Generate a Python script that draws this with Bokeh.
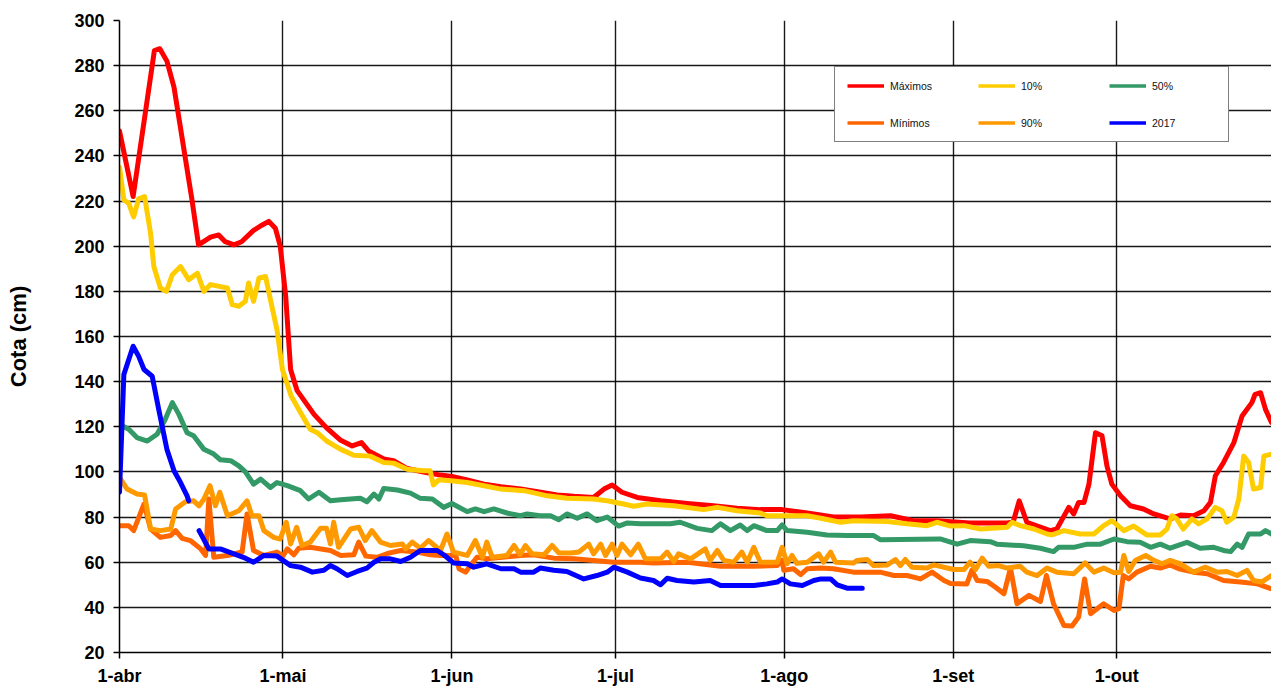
import numpy as np
from bokeh.plotting import figure
from bokeh.models import FixedTicker, Legend, LegendItem, Range1d
from bokeh.embed import file_html
from bokeh.resources import INLINE

# ---- tick labels (day 0 = 1 April) ----
month_ticks = [0, 30, 61, 91, 122, 153, 183]
month_labels = ["1-abr", "1-mai", "1-jun", "1-jul", "1-ago", "1-set", "1-out"]
y_ticks = list(range(20, 301, 20))

# ---- Máximos ----
max_day = [0, 2.5, 6.4, 7.4, 8.7, 10, 13.3, 14.5, 16.7, 18.2, 19.4, 21, 22.4, 24.6, 26.2, 27.4, 28.6, 29.5,
           30.5, 31.4, 32.6, 35.7, 38, 40.6, 42.7, 44.4, 45.7, 48.5, 50.3, 52.8, 55.8, 58.9, 61, 63.8, 66.9,
           70, 73.6, 77.3, 80.3, 83.4, 87, 88.9, 90.4, 92.2, 95, 99.3, 104.2, 109, 113.3, 117.6, 121.6,
           126.2, 131, 136, 141.5, 145.7, 150, 156, 162.9, 164, 165.1, 166.5, 170.8, 172, 174.2, 175.1, 176,
           177, 177.9, 179.1, 180.3, 181.2, 182.1, 183.7, 185.5, 187.9, 189.8, 192.8, 194.7, 197.1, 199,
           200.2, 201.1, 202.6, 204.5, 206, 207.8, 208.4, 209.4, 210.3, 211.4]
max_val = [251, 222, 286.7, 287.5, 282, 270.5, 220.5, 200.6, 204, 205, 202, 200.6, 202, 207, 209.4, 211, 208, 200,
           177.8, 145.4, 136, 125.5, 119.5, 114, 111.5, 113, 109.3, 105.7, 105, 101.5, 100, 98.6, 98, 96.5, 94.6,
           93.4, 92.4, 91, 89.8, 89.2, 88.7, 92.4, 94.2, 91, 88.7, 87.2, 86, 85, 83.9, 83.3, 83.3,
           81.8, 80, 80, 80.6, 78.4, 78.4, 77.4, 77.4, 77.8, 87.2, 77.7, 74, 74.7, 84.3, 81.4, 86.5,
           86.5, 94.6, 117.4, 116, 102.7, 94.6, 89.4, 85, 83.6, 81.4, 79.2, 80.9, 80.6, 82.8,
           86.5, 98.3, 104.2, 113, 124.8, 130.7, 134.4, 135.1, 127.7, 121.9]

# ---- 10% ----
p10_day = [0, 0.8, 1.7, 2.6, 3.5, 4.6, 5.7, 6.3, 7.5, 8.6, 9.7, 11.2, 12.7, 14.3, 15.5, 16.7, 19.8, 20.7, 21.9,
           23.1, 23.7, 24.6, 25.6, 26.8, 27.7, 28.9, 29.9, 31.5, 32.9, 35, 36.3, 38, 40.6, 43, 46, 48.5, 50.3,
           52.8, 55.8, 57, 57.6, 58.6, 61.3, 63.8, 66.9, 70, 74.2, 78.5, 82.1, 87, 89.5, 92.5, 94.4, 96.8,
           101.7, 107.2, 109.7, 113.3, 117.6, 118.8, 126.2, 128.7, 132.3, 134.7, 140.9, 144.5, 148.2, 150,
           152.5, 155, 158, 162.9, 163.8, 165.3, 167.8, 170.2, 171.1, 173.3, 176.3, 178.8, 180.6, 182.1,
           184.3, 186.1, 188.5, 191, 192.2, 193.1, 194, 195.2, 196.8, 198, 199.6, 201.1, 202.3, 203.2,
           204.5, 205.4, 206.3, 207.2, 208.1, 209.4, 210, 211.4]
p10_val = [235, 220.5, 219, 213, 221, 222, 205.8, 191, 181.5, 180, 187.4, 191, 185.2, 188, 180, 183, 181.5, 174.1,
           173.4, 175.6, 183.7, 175.6, 185.9, 186.6, 176.3, 163, 145.4, 133.6, 127.7, 118.9, 117.4, 113.7, 110,
           107.4, 107, 104.2, 103.9, 101.2, 100.5, 100.5, 94.2, 96.5, 96, 95.3, 93.9, 92.4, 91.7, 89.4, 88.3,
           88, 87.2, 85.8, 84.8, 85.8, 85, 83.3, 84.3, 82.8, 81.8, 80.6, 80.6, 79.5, 77.7, 78.4, 78, 77, 76.2,
           77.7, 76, 76.2, 74.7, 75.5, 77.7, 76.2, 74.7, 72.5, 72.1, 74, 72.5, 72.5, 76.2, 78.4, 74, 76, 72.1,
           72.1, 74.7, 80.6, 79.2, 74.7, 79.2, 77, 79.2, 84.3, 82.8, 77.7, 80, 88, 107, 104.2, 92.4, 93.1,
           107, 107.9]

# ---- 50% ----
p50_day = [0, 1.7, 3.2, 5.1, 6.9, 8.4, 9.7, 10.9, 12.4, 13.6, 15.5, 17.3, 18.5, 20.4, 21.9, 23.1, 24.6, 25.9,
           27.7, 28.9, 30.8, 33.2, 34.7, 36.6, 38.7, 40.6, 44.2, 45.4, 46.7, 47.6, 48.5, 51, 53.4, 55.2, 57.4,
           59.5, 61, 63.8, 65.3, 66.9, 68.7, 71.1, 73.6, 74.8, 77.2, 79.1, 80.6, 82.1, 84, 85.8, 87.6, 89.5,
           91.6, 93.2, 95.6, 101.1, 102.9, 106, 108.7, 110.3, 112.1, 113.9, 115.2, 116.4, 118.8, 120.7, 121.6,
           122.5, 126.2, 129.8, 133.5, 138.4, 139.6, 150.6, 153.7, 156.1, 159.8, 161, 165.9, 169, 171.4, 172.3,
           175.1, 177.6, 180, 182.5, 184.9, 187.3, 189.2, 191, 192.8, 195.9, 198.3, 200.8, 202.6, 203.9, 205.1,
           206, 207.2, 209.4, 210.3, 211.4]
p50_val = [121, 118.9, 115.2, 113.7, 116.7, 123.3, 130.7, 125.5, 117.4, 116, 110, 107.9, 105.4, 105, 102.7, 100,
           94.6, 96.8, 93.1, 95.3, 93.9, 91.7, 88, 91, 87.2, 87.7, 88.3, 86.8, 90.2, 88, 92.7, 92, 90.6, 88.3, 88,
           84.3, 86, 82.4, 83.6, 82.4, 83.6, 81.8, 80.6, 81.4, 80.6, 80.6, 78.8, 81.4, 79.5, 81.4, 78.4, 80, 76,
           77.4, 77, 77, 77.7, 75, 74, 77, 74, 76.5, 74, 76.2, 74, 74, 76.5, 74, 73.3, 72.1, 71.8, 71.8, 70,
           70.3, 68, 69.6, 69.1, 68, 67.3, 66.2, 64.7, 66.6, 66.6, 68, 68, 70.3, 69.1, 68.8, 66.6, 68, 66.2,
           68.8, 66.2, 66.6, 65.2, 64.7, 68, 66.6, 72.5, 72.5, 74, 72.5]

# ---- Mínimos ----
min_day = [0, 1.7, 2.6, 4.5, 5.7, 7.5, 9.4, 10.3, 11.5, 13, 14.9, 15.8, 16.4, 17.3, 19.8, 22.5, 23.4, 24.6, 26.5,
           28.9, 30, 30.8, 32, 32.9, 35, 38.7, 40.6, 43, 43.9, 45.2, 47.3, 49.4, 51.6, 54.6, 57, 58.9, 61.7,
           62.3, 63.5, 64.4, 65.6, 67.4, 73.6, 76, 79.7, 83.4, 87, 90.7, 95.6, 98, 104.2, 110.3, 116.4, 120.7,
           121.6, 121.9, 123.7, 125, 126.2, 128.7, 131, 134.7, 139.6, 142.1, 144.5, 147, 149.1, 151.3, 152.5,
           155.5, 156.4, 157.4, 159.2, 160.7, 162.3, 163.5, 164.7, 166.9, 169, 170.1, 171.4, 173.3, 174.8, 176,
           177.1, 178.2, 180.6, 182.5, 183.4, 184.2, 185.2, 186.7, 189.2, 191, 192.8, 194.4, 197.1, 199.6,
           202.6, 205.7, 208.8, 211.4]
min_val = [76.2, 76.2, 74, 85.8, 74.7, 71, 71.8, 74, 70.6, 69.6, 65.9, 63, 88, 62.2, 63, 64.5, 81.4, 65.2, 63,
           64.5, 62.8, 65.9, 63.3, 66.2, 66.6, 65.2, 63, 63.3, 68.9, 62.7, 62.2, 64, 65.2, 64.5, 63.3, 63, 63,
           57.1, 55.6, 58.5, 62.2, 61.5, 63, 63.3, 61.8, 61.5, 60.8, 60, 60, 59.7, 60, 58.2, 58.2, 58.5,
           60.8, 56.4, 57.1, 54.5, 57.1, 57.4, 57.1, 55.6, 55.6, 54.1, 54.1, 52.6, 55.6, 51.9, 50.6,
           50.4, 56.4, 51.9, 51.5, 49, 46, 57.4, 41.6, 45.3, 42.6, 54.1, 41.6, 32, 31.7, 35.7,
           52.6, 37.2, 41.6, 38.6, 39.4, 54.1, 52.6, 55.6, 58.2, 57.4, 58.8, 57.1, 55.6, 54.9,
           51.9, 51.2, 50.4, 48.2]

# ---- 90% ----
p90_day = [0, 1.4, 3.2, 4.6, 5.7, 7.5, 9.4, 10.3, 12.1, 13.6, 14.6, 15.5, 16.6, 17.6, 18.4, 19.8, 21.9, 23.4,
           24.3, 25.6, 26.5, 28.3, 29.5, 30.6, 31.4, 32.5, 33.5, 35, 36.9, 38, 38.7, 39.3, 40.2, 42.4, 43.9,
           45.1, 46.3, 47.9, 49.7, 51.9, 52.5, 53.7, 55.2, 56.7, 58.9, 60.1, 61.3, 63.8, 65.3, 66.6, 67.4,
           68.4, 71.1, 72.4, 73.5, 74.5, 75.7, 77.9, 79.4, 80.6, 82.8, 84.3, 86.1, 87, 88.3, 89.2, 90.4, 91.3,
           92.2, 93.8, 95.2, 96.5, 99.3, 100.5, 101.7, 102.6, 104.8, 107.5, 108.4, 109.7, 110.9, 112.7, 114.2,
           115.2, 116.4, 117.6, 120.7, 121.6, 122.5, 123.4, 124.3, 126.2, 128.3, 129.2, 130.5, 131.4, 134.7,
           135.3, 137.2, 138.4, 140.9, 142.4, 143.3, 144.2, 145.4, 148.2, 149.4, 152.5, 153.1, 155, 156.1,
           157.1, 158.3, 159.5, 161.3, 162.9, 165.3, 166.5, 168.4, 170.2, 172, 175.1, 177.2, 178.8, 180.6,
           182.5, 183.7, 184.3, 185.2, 186.4, 188.3, 189.8, 191.3, 192.8, 194.7, 197.1, 199.2, 201.4, 203.2,
           205.1, 206.9, 208.1, 209.6, 211.4]
p90_val = [97.6, 92.4, 90.2, 89.8, 74.7, 74, 74.7, 83.6, 86.8, 87.2, 85, 88, 93.9, 85, 91, 80.6, 82.8, 87.2,
           80.6, 80.6, 74, 71, 70.3, 77.7, 68.1, 75.5, 67.4, 68.9, 75, 75, 68.1, 77.7, 66.6, 74.7, 75.5,
           69.6, 74, 68.9, 67.4, 68.1, 65.9, 68.9, 66.2, 69.6, 65.2, 72.5, 64.5, 63, 69.6, 62.2, 68.9,
           62.2, 63, 67.4, 63.5, 67.4, 63.7, 63.3, 67.4, 64.1, 64.1, 64.5, 68, 63.7, 68, 63, 68, 63,
           68, 63.3, 68, 61.5, 61.5, 64.5, 60.3, 63.7, 61.5, 65.9, 60.8, 65.2, 60.8, 60, 64.5,
           60, 66.6, 60, 60, 66.6, 59.3, 63, 59.5, 60, 63.7, 60, 64.5, 60, 59.7,
           60.8, 61.2, 58.5, 58.8, 61.2, 58.5, 61.2, 57.8, 57.4, 58.8, 57.1, 56.8, 56.8, 60,
           56.8, 61.8, 58.2, 58.5, 57.4, 58.2, 55.6, 54.1, 57.4, 55.6, 54.9, 59.7, 55.6, 57.4,
           55.3, 55.6, 63, 55.9, 60.8, 63, 60.8, 59.3, 60.8, 59.3, 55.6, 57.8, 55.6, 55.9,
           54.1, 56.4, 51.9, 51.2, 54.1]

# ---- 2017 (gap = missing readings) ----
y2017_day = [0, 0.8, 2.5, 3.5, 4.5, 6, 7.2, 8.7, 10, 11.2, 12.4, 12.7, 13.6,
             14.6, 16.4, 18.5, 21, 23.1, 24.6, 26.5, 28.9, 31.4, 33.2, 35.4, 37.5, 38.7, 39.9, 41.8, 43.6,
             45.4, 46.7, 47.9, 49.7, 51.6, 53.4, 55.2, 58.3, 59.5, 61.3, 63.8, 65, 67.4, 70, 72.4, 73.6, 76,
             77.2, 79.7, 82.1, 85.2, 87.6, 89.5, 90.7, 93.2, 95.6, 98, 99.3, 100.5, 102.3, 105.4, 108.4, 110.3,
             116.4, 118.8, 120.7, 121.6, 123.1, 125.3, 127.4, 128.7, 130.5, 131.7, 133.5, 136.3]
y2017_val = [91, 143.2, 155.7, 151.3, 145.4, 142.4, 127.7, 110, 100.5, 95.3, 89.4, 87.2, np.nan,
             74, 65.9, 65.9, 63.7, 61.8, 60, 63, 62.7, 58.5, 57.8, 55.6, 56.4, 58.5, 57.1, 54.1, 55.9,
             57.4, 60, 61.5, 61.5, 60.3, 62.2, 65.2, 65.2, 63.3, 59.7, 59.3, 57.8, 59.3, 57.1, 57.1, 55.6, 55.6,
             57.4, 56.4, 55.9, 52.6, 54.1, 55.6, 57.8, 55.6, 53, 51.9, 50, 52.9, 51.9, 51.2, 51.9, 49.7,
             49.7, 50.4, 51.2, 52.6, 50.4, 49.7, 51.9, 52.6, 52.6, 50, 48.5, 48.5]

series = [
    ("Máximos", max_day, max_val, "#FF0000"),
    ("10%", p10_day, p10_val, "#FFCC00"),
    ("50%", p50_day, p50_val, "#339966"),
    ("Mínimos", min_day, min_val, "#FF6600"),
    ("90%", p90_day, p90_val, "#FF9900"),
    ("2017", y2017_day, y2017_val, "#0000FF"),
]

FONT = "Liberation Sans"

p = figure(width=1271, height=688, output_backend="svg", toolbar_location=None,
           x_range=Range1d(0, 211.4), y_range=Range1d(20, 300),
           min_border_left=119, min_border_right=0, min_border_top=20, min_border_bottom=34)
p.outline_line_color = None
p.background_fill_color = "white"
p.border_fill_color = "white"

legend_items = []
for name, d, v, c in series:
    p.line(np.array(d, dtype=float), np.array(v, dtype=float), line_color=c, line_width=5,
           line_join="round", line_cap="round")
    # legend swatch (thinner line, nothing drawn in the plot)
    sw = p.line(x=np.array([np.nan]), y=np.array([np.nan]), line_color=c, line_width=3.5)
    legend_items.append(LegendItem(label=name, renderers=[sw]))

# axes
p.xaxis.ticker = FixedTicker(ticks=month_ticks)
p.xaxis.major_label_overrides = {t: l for t, l in zip(month_ticks, month_labels)}
p.yaxis.ticker = FixedTicker(ticks=y_ticks)
for ax in (p.xaxis[0], p.yaxis[0]):
    ax.axis_line_color = "black"
    ax.axis_line_width = 1.5
    ax.major_tick_line_color = "black"
    ax.major_tick_line_width = 1.5
    ax.major_tick_out = 6
    ax.major_tick_in = 0
    ax.minor_tick_line_color = None
    ax.major_label_text_font = FONT
    ax.major_label_text_font_style = "bold"
    ax.major_label_text_font_size = "18px"
    ax.major_label_text_color = "black"
p.xaxis.major_label_standoff = 7
p.yaxis.major_label_standoff = 9
p.yaxis.axis_label = "Cota (cm)"
p.yaxis.axis_label_text_font = FONT
p.yaxis.axis_label_text_font_style = "bold"
p.yaxis.axis_label_text_font_size = "22px"
p.yaxis.axis_label_text_color = "black"
p.yaxis.axis_label_standoff = 40

p.xgrid.ticker = FixedTicker(ticks=month_ticks)
p.ygrid.ticker = FixedTicker(ticks=y_ticks)
for g in (p.xgrid[0], p.ygrid[0]):
    g.grid_line_color = "black"
    g.grid_line_width = 1.4
    g.grid_line_alpha = 0.9

legend = Legend(items=legend_items, orientation="horizontal", ncols=3,
                location=(715, 510),
                padding=12, spacing=24, glyph_width=37, glyph_height=13, label_height=13,
                label_width=64, label_standoff=6,
                label_text_font=FONT, label_text_font_size="10.5px", label_text_color="#111111",
                border_line_color="black", border_line_width=1.2,
                background_fill_color="white", background_fill_alpha=1.0)
p.add_layout(legend, "center")

open("out.html", "w").write(file_html(p, INLINE))
